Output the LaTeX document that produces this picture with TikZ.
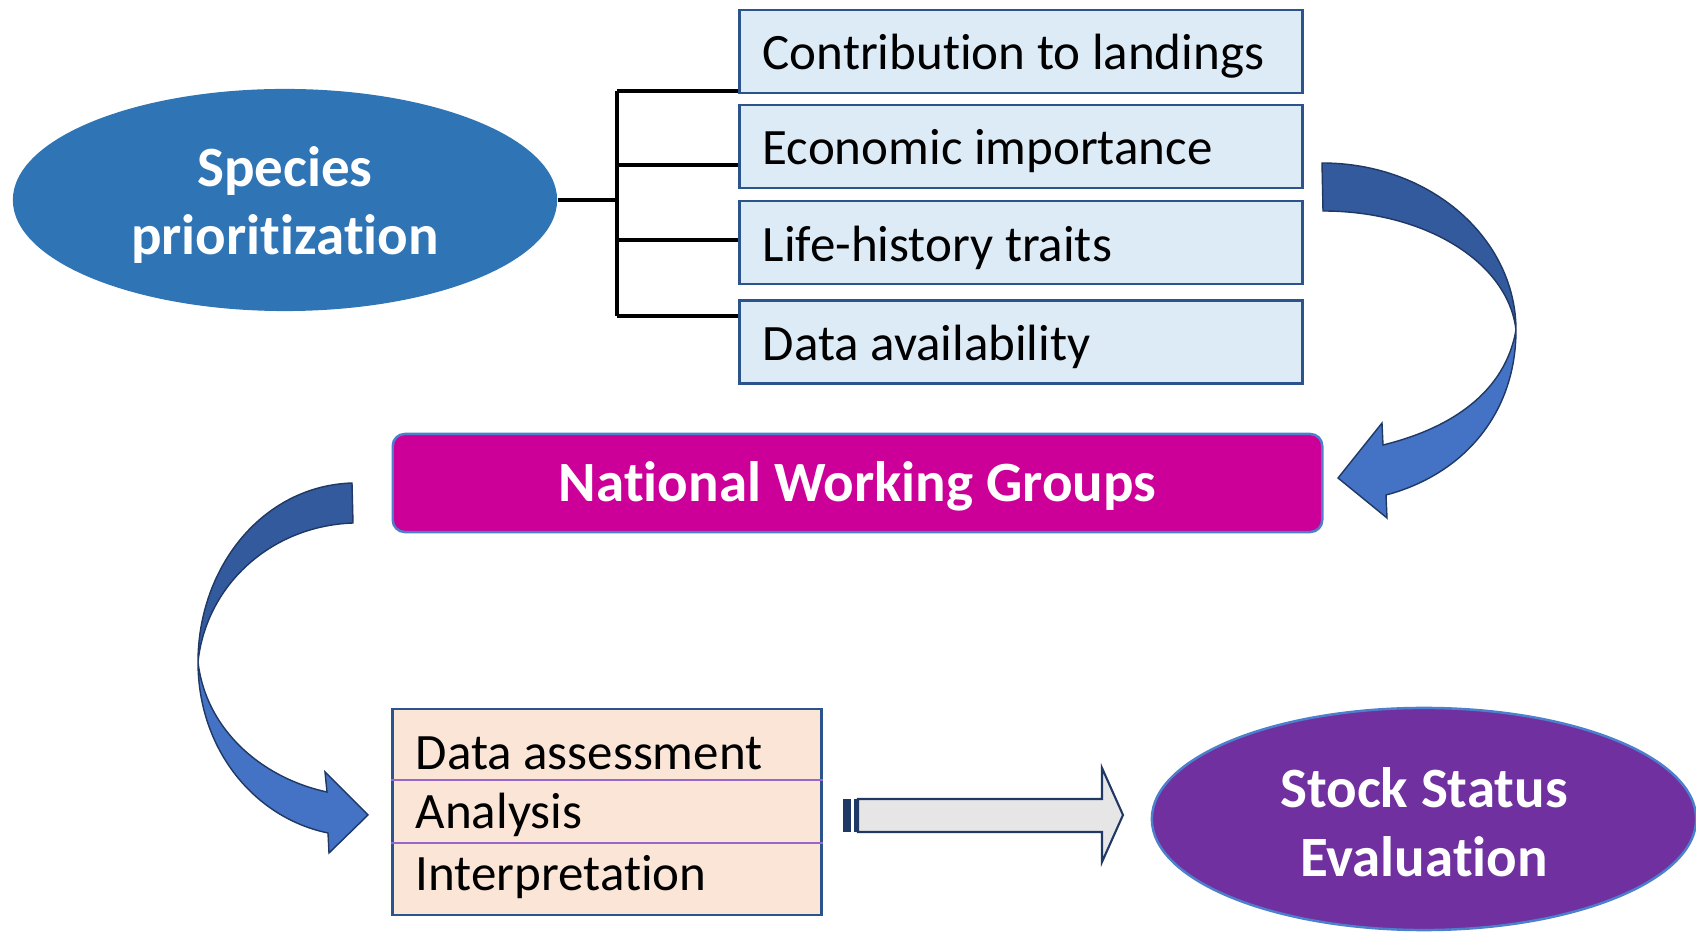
\documentclass[tikz,border=0pt]{standalone}
\usepackage{fontspec}
\setmainfont{Carlito}[RawFeature=-liga]
\usetikzlibrary{shapes.geometric, positioning}

\definecolor{spblue}{RGB}{47,117,182}
\definecolor{critfill}{RGB}{221,235,247}
\definecolor{critline}{RGB}{44,84,140}
\definecolor{nwgpink}{RGB}{204,0,153}
\definecolor{edgeblue}{RGB}{76,128,204}
\definecolor{arrdark}{RGB}{50,90,156}
\definecolor{arrlight}{RGB}{68,114,196}
\definecolor{arrline}{RGB}{31,56,100}
\definecolor{peach}{RGB}{251,229,214}
\definecolor{seppurple}{RGB}{153,102,204}
\definecolor{greyfill}{RGB}{231,230,230}
\definecolor{stockpurple}{RGB}{112,48,160}

\tikzset{
    oval/.style={ellipse, minimum width=5.44cm, minimum height=2.22cm, inner sep=0pt},
    ovaltext/.style={text=white, font=\fontsize{16.2}{19.5}\selectfont\bfseries, align=center},
    crit/.style={rectangle, draw=critline, line width=.8pt, fill=critfill,
        minimum width=5.62cm, minimum height=.83cm},
    plain/.style={anchor=west, inner sep=0pt, font=\fontsize{14.5}{17}\selectfont},
    branch/.style={line width=1pt, black},
    band/.style={draw=arrline, line width=.4pt},
}

\begin{document}
\begin{tikzpicture}[x=.01cm, y=-.01cm]
    \useasboundingbox (0,0) rectangle (1696,934);

    % species and the four criteria
    \node[oval, fill=spblue] (sp) at (285,200) {};
    \node[ovaltext] (sptext) at (285,205) {Species\\prioritization};
    \foreach \y/\t [count=\i] in {51.5/Contribution to landings, 146.5/Economic importance,
                                  242.5/Life-history traits, 342/Data availability}
    {
        \node[crit] (c\i) at (1021,\y) {};
        \node[plain] (ct\i) at (762,\y+5) {\t};
    }

    \coordinate (fork) at (617,200);
    \draw[branch] (sp.east) -- (fork);
    \draw[branch] (617,91) -- (617,316);
    \foreach \y/\b in {91/c1, 165/c2, 240/c3, 316/c4}
        \draw[branch] (617,\y) -- (\b.west |- 0,\y);

    % working groups
    \node[rectangle, rounded corners=.12cm, fill=nwgpink, draw=edgeblue, line width=.7pt,
        minimum width=9.29cm, minimum height=.98cm, text=white, text height=14pt, text depth=3.3pt,
        font=\fontsize{16.2}{19.5}\selectfont\bfseries] (nwg) at (857.5,483) {National Working Groups};

    % curved arrow on the right
    \fill[arrdark, band] (1322,163) .. controls (1432,163) and (1516,240) .. (1516,330)
        .. controls (1508,262) and (1425,211) .. (1323,211) -- cycle;
    \fill[arrlight, band] (1516,330) .. controls (1516,415) and (1462,475) .. (1386,495)
        -- (1387,518) -- (1338,478) -- (1382,423) -- (1383,445)
        .. controls (1452,428) and (1505,392) .. (1516,330) -- cycle;

    % curved arrow on the left
    \fill[arrdark, band] (352,483) .. controls (262,486) and (198,568) .. (198,662)
        .. controls (206,586) and (270,526) .. (353,523) -- cycle;
    \fill[arrlight, band] (198,662) .. controls (198,750) and (255,818) .. (328,833)
        -- (329,853) -- (368,815) -- (325,772) -- (327,792)
        .. controls (262,778) and (206,730) .. (198,662) -- cycle;

    % assessment steps
    \node[rectangle, draw=critline, line width=.8pt, fill=peach,
        minimum width=4.28cm, minimum height=2.06cm] (steps) at (607,812) {};
    \draw[seppurple, line width=.5pt] (steps.west |- 0,780) -- (steps.east |- 0,780);
    \draw[seppurple, line width=.5pt] (steps.west |- 0,843) -- (steps.east |- 0,843);
    \foreach \y/\t [count=\i] in {753/Data assessment, 815/Analysis, 877/Interpretation}
        \node[plain] (st\i) at (415,\y) {\t};

    % striped block arrow
    \draw[arrline, line width=.6pt, fill=greyfill] (858,799) -- (1102,799) -- (1102,768)
        -- (1123,815) -- (1102,862) -- (1102,832) -- (858,832) -- cycle;
    \fill[arrline] (843,799) rectangle (851,832);
    \fill[arrline] (854,799) rectangle (858,832);

    % evaluation
    \node[oval, fill=stockpurple, draw=edgeblue, line width=.7pt] (stock) at (1424,819) {};
    \node[ovaltext] (stocktext) at (1424,822) {Stock Status\\Evaluation};
\end{tikzpicture}
\end{document}
